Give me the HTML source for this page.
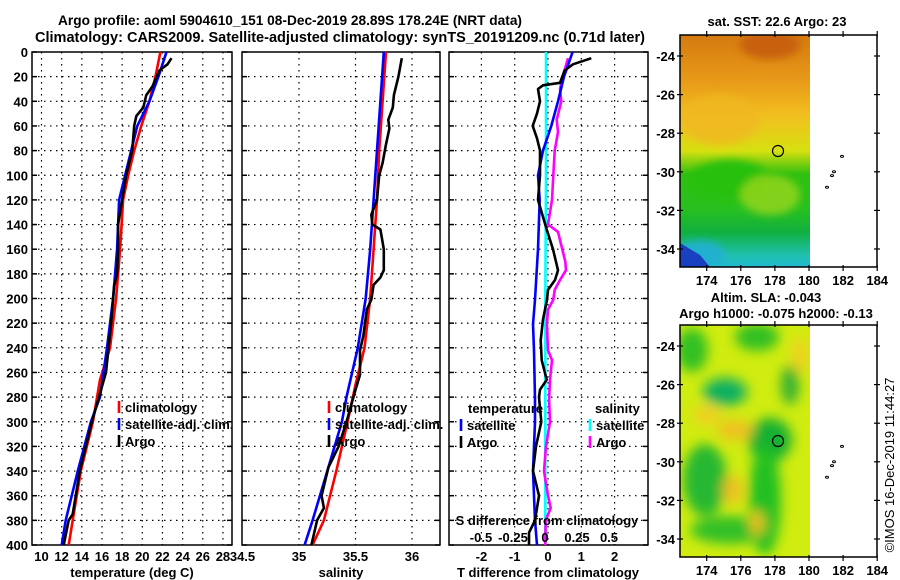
<!DOCTYPE html>
<html><head><meta charset="utf-8">
<style>
body{margin:0;background:#fff;}
svg{display:block;font-family:"Liberation Sans",sans-serif;font-weight:bold;}
</style></head>
<body>
<svg id="c" width="900" height="580" viewBox="0 0 900 580" xmlns="http://www.w3.org/2000/svg">
<defs>
<linearGradient id="sstg" x1="0" y1="0" x2="0" y2="1">
<stop offset="0" stop-color="#d47a10"/><stop offset="0.2" stop-color="#e89a18"/>
<stop offset="0.35" stop-color="#f2c020"/><stop offset="0.5" stop-color="#d6e010"/>
<stop offset="0.6" stop-color="#30c010"/><stop offset="0.75" stop-color="#28c020"/>
<stop offset="0.85" stop-color="#10b040"/><stop offset="0.95" stop-color="#20c0b0"/>
<stop offset="1" stop-color="#20b8d0"/></linearGradient>
<filter id="bl"><feGaussianBlur stdDeviation="6"/></filter>
<filter id="bl2"><feGaussianBlur stdDeviation="4"/></filter>
<clipPath id="m1c"><rect x="680" y="35" width="130" height="232"/></clipPath>
<clipPath id="m2c"><rect x="680" y="325" width="130" height="232"/></clipPath>
</defs>
<text x="290" y="25" font-size="14" text-anchor="middle" textLength="464" lengthAdjust="spacingAndGlyphs">Argo profile: aoml 5904610_151 08-Dec-2019 28.89S 178.24E (NRT data)</text>
<text x="340" y="42" font-size="14.5" text-anchor="middle" textLength="610" lengthAdjust="spacingAndGlyphs">Climatology: CARS2009. Satellite-adjusted climatology: synTS_20191209.nc (0.71d later)</text>
<g id="panels"></g>
<g>
<text x="777" y="26" font-size="13" text-anchor="middle">sat. SST: 22.6 Argo: 23</text>
<g clip-path="url(#m1c)">
<rect x="680" y="35" width="130" height="232" fill="url(#sstg)"/>
<g filter="url(#bl2)">
<ellipse cx="770" cy="45" rx="30" ry="14" fill="#c86008"/>
<ellipse cx="720" cy="120" rx="40" ry="25" fill="#f0b820" opacity="0.8"/>
<ellipse cx="730" cy="180" rx="40" ry="20" fill="#28c010"/>
<ellipse cx="770" cy="195" rx="30" ry="20" fill="#a8d818" opacity="0.7"/>
<ellipse cx="700" cy="255" rx="25" ry="14" fill="#20b0d0"/>
</g>
<polygon points="680,243 700,255 710,267 680,267" fill="#1840c0"/>
</g>
<circle cx="778" cy="151" r="5.5" fill="none" stroke="#000" stroke-width="1.2"/>
<rect x="680" y="35" width="197" height="232" fill="none" stroke="#000" stroke-width="1.5"/>
</g>
<g>
<text x="766" y="302" font-size="13" text-anchor="middle">Altim. SLA: -0.043</text>
<text x="776" y="318" font-size="13" text-anchor="middle">Argo h1000: -0.075 h2000: -0.13</text>
<g clip-path="url(#m2c)">
<rect x="680" y="325" width="130" height="232" fill="#d0ec10"/>
<g filter="url(#bl)">
<ellipse cx="692" cy="350" rx="16" ry="22" fill="#30c020"/>
<ellipse cx="757" cy="337" rx="22" ry="14" fill="#30c020"/>
<ellipse cx="725" cy="392" rx="22" ry="14" fill="#10b060"/>
<ellipse cx="790" cy="385" rx="9" ry="20" fill="#30b030"/>
<ellipse cx="770" cy="440" rx="22" ry="22" fill="#18b030"/>
<ellipse cx="765" cy="500" rx="16" ry="55" fill="#20c020"/>
<ellipse cx="705" cy="480" rx="22" ry="36" fill="#28b830"/>
<ellipse cx="730" cy="530" rx="40" ry="14" fill="#30c028"/>
<ellipse cx="735" cy="430" rx="18" ry="10" fill="#f0c020"/>
<ellipse cx="707" cy="415" rx="14" ry="10" fill="#f0d020"/>
<ellipse cx="733" cy="490" rx="10" ry="14" fill="#f0c020"/>
<ellipse cx="757" cy="523" rx="7" ry="12" fill="#f0c020"/>
<ellipse cx="800" cy="355" rx="8" ry="18" fill="#f0d020"/>
</g>
</g>
<circle cx="778" cy="441" r="5.5" fill="none" stroke="#000" stroke-width="1.2"/>
<rect x="680" y="325" width="197" height="232" fill="none" stroke="#000" stroke-width="1.5"/>
</g>
<g id="maps"></g>
<text transform="translate(894,465) rotate(-90)" font-size="13" font-weight="normal" text-anchor="middle">©IMOS 16-Dec-2019 11:44:27</text>
</svg>
<script>
const tClimDepth = [0,20,40,60,80,100,120,160,200,240,266,300,340,380,400];
const tClim = [21.8,21.3,20.7,19.9,19.2,18.6,18.1,17.8,17.4,16.8,15.8,15.1,13.9,13.1,12.7];
const tSatDepth = [0,20,40,60,80,120,160,200,240,280,300,340,380,400];
const tSat = [22.4,21.6,20.7,19.5,18.9,17.7,17.5,17.1,16.5,15.8,14.9,13.6,12.4,12.0];
const tArgoDepth = [5,10,15,28,35,45,52,60,70,80,100,140,160,180,190,220,260,300,340,375,380,400];
const tArgo = [22.9,22.5,21.7,21.0,20.4,20.1,19.4,19.2,19.1,19.0,18.4,17.6,17.6,17.5,17.2,16.9,16.4,15.0,13.8,13.1,12.7,12.2];
const sClimDepth = [0,40,80,120,160,200,240,270,300,340,380,400];
const sClim = [35.77,35.74,35.71,35.69,35.66,35.63,35.58,35.50,35.43,35.33,35.22,35.12];
const sSatDepth = [0,40,80,120,160,200,240,280,300,340,380,400];
const sSat = [35.75,35.72,35.69,35.66,35.63,35.59,35.52,35.42,35.38,35.25,35.12,35.05];
const sArgoDepth = [5,20,35,45,55,62,75,90,100,120,132,140,144,160,177,183,189,201,209,230,242,262,274,300,320,337,360,370,380,400];
const sArgo = [35.91,35.88,35.84,35.83,35.79,35.80,35.77,35.74,35.71,35.69,35.64,35.65,35.72,35.75,35.75,35.72,35.66,35.64,35.60,35.57,35.54,35.54,35.50,35.42,35.35,35.26,35.20,35.22,35.16,35.11];
const dTSatDepth = [0,20,40,60,80,100,120,160,201,221,242,282,300,340,380,400];
const dTSat = [0.74,0.48,0.30,0.10,-0.15,-0.30,-0.25,-0.30,-0.39,-0.45,-0.42,-0.39,-0.39,-0.45,-0.39,-0.33];
const dTArgoDepth = [5,10,15,25,27,30,40,50,60,70,80,100,120,144,160,177,185,193,201,217,234,250,266,274,280,300,320,340,360,380,390,400];
const dTArgo = [1.3,0.75,0.5,0.36,-0.15,-0.3,-0.24,-0.33,-0.46,-0.33,-0.24,-0.24,-0.3,-0.04,0.15,0.3,0.21,0,-0.03,-0.15,-0.22,-0.19,-0.04,-0.24,-0.27,-0.2,-0.36,-0.45,-0.27,-0.39,-0.57,-0.57];
const dSSatDepth = [0,100,200,300,400];
const dSSat = [-0.015,-0.015,-0.02,-0.02,-0.02];
const dSArgoDepth = [5,20,30,40,55,65,80,100,120,140,146,170,177,185,193,201,209,221,242,250,266,282,300,320,340,360,370,380,400];
const dSArgo = [0.15,0.11,0.09,0.10,0.065,0.075,0.05,0.04,0.03,0.0,0.075,0.13,0.135,0.09,0.05,0.04,0.0,-0.008,0.0,0.03,0.015,0.008,0.015,-0.015,-0.03,0.0,0.02,-0.017,-0.02];
const depthTicks = [0,20,40,60,80,100,120,140,160,180,200,220,240,260,280,300,320,340,360,380,400];
const tTicks = [10,12,14,16,18,20,22,24,26,28];
const sTicks = [34.5,35,35.5,36];
const sTickLabels = ["34.5","35","35.5","36"];
const dTTicks = [-2,-1,0,1,2];
const dSTicks = [-0.5,-0.25,0,0.25,0.5];
const dSTickLabels = ["-0.5","-0.25","0","0.25","0.5"];
const latTicks = [-24,-26,-28,-30,-32,-34];
const lonTicks = [174,176,178,180,182,184];

const yD = d => 52 + d*1.2325;
const xT = t => 41.5 + (t-10)*10.08;
const xS = s => 299 + (s-35)*113;
const xDT = v => 548 + v*33.3;
const xDS = v => 548 + v*133.2;
const xDSLabel = v => 545 + v*128;
const xLon = l => 706.7 + (l-174)*17.05;
const yLat1 = l => 56 + (-24-l)*19.3;
const yLat2 = l => 346 + (-24-l)*19.3;

const NS="http://www.w3.org/2000/svg";
const G=document.getElementById('panels');
function mk(tag,attrs,parent,txt){const e=document.createElementNS(NS,tag);for(const k in attrs)e.setAttribute(k,attrs[k]);if(txt!==undefined)e.textContent=txt;(parent||G).appendChild(e);return e;}
function line(xs,ds,fx,color,name,w){
  let p=''; for(let i=0;i<xs.length;i++){p+=(i?'L':'M')+fx(xs[i]).toFixed(1)+','+yD(ds[i]).toFixed(1);}
  const e=mk('path',{d:p,fill:'none',stroke:color,'stroke-width':w||2.6,'stroke-linejoin':'round'});
  
  
}
const panels=[{x0:32,x1:232,ticks:tTicks,fx:xT,labels:tTicks.map(String),title:'temperature (deg C)',tx:132,name:'temperature-panel'},
{x0:242,x1:440,ticks:sTicks,fx:xS,labels:sTickLabels,title:'salinity',tx:341,name:'salinity-panel'},
{x0:449,x1:648,ticks:dTTicks,fx:xDT,labels:dTTicks.map(String),title:'T difference from climatology',tx:548,name:'difference-panel'}];
panels.forEach(p=>{
  const g=mk('g',{});
  
  
  depthTicks.forEach(d=>{ if(d>0&&d<400) mk('line',{x1:p.x0,x2:p.x1,y1:yD(d),y2:yD(d),stroke:'#000','stroke-width':1.2,'stroke-dasharray':'1.5,4.5'},g);
    mk('line',{x1:p.x0,x2:p.x0+5,y1:yD(d),y2:yD(d),stroke:'#000','stroke-width':1.5},g);
    mk('line',{x1:p.x1-5,x2:p.x1,y1:yD(d),y2:yD(d),stroke:'#000','stroke-width':1.5},g);});
  p.ticks.forEach((t,i)=>{const x=p.fx(t);
    if(x>p.x0+2&&x<p.x1-2) mk('line',{x1:x,x2:x,y1:yD(0),y2:yD(400),stroke:'#000','stroke-width':1.2,'stroke-dasharray':'1.5,4.5'},g);
    const lb=mk('text',{x:x,y:561,'font-size':13,'text-anchor':'middle'},g,p.labels[i]);
    
    });
  mk('rect',{x:p.x0,y:yD(0),width:p.x1-p.x0,height:yD(400)-yD(0),fill:'none',stroke:'#000','stroke-width':1.5},g);
  const at=mk('text',{x:p.tx,y:577,'font-size':13,'text-anchor':'middle'},g,p.title);
  
  
});
depthTicks.forEach(d=>{const t=mk('text',{x:28,y:yD(d)+5,'font-size':13,'text-anchor':'end'},G,String(d));
  
  });

line(tClim,tClimDepth,xT,'#f00','temp-climatology-line');
line(tSat,tSatDepth,xT,'#00f','temp-satellite-line');
line(tArgo,tArgoDepth,xT,'#000','temp-argo-line');
line(sClim,sClimDepth,xS,'#f00','sal-climatology-line');
line(sSat,sSatDepth,xS,'#00f','sal-satellite-line');
line(sArgo,sArgoDepth,xS,'#000','sal-argo-line');
line(dSSat,dSSatDepth,v=>xDS(v),'#0ff','sdiff-satellite-line');
line(dSArgo,dSArgoDepth,v=>xDS(v),'#f0f','sdiff-argo-line');
line(dTSat,dTSatDepth,xDT,'#00f','tdiff-satellite-line');
line(dTArgo,dTArgoDepth,xDT,'#000','tdiff-argo-line');

const sdt=mk('text',{x:547,y:525,'font-size':13,'text-anchor':'middle'},G,'S difference from climatology');


dSTicks.forEach((v,i)=>{const t=mk('text',{x:xDSLabel(v),y:542,'font-size':13,'text-anchor':'middle'},G,dSTickLabels[i]);
  
  });

function leg(x,y,color,txt,name){
  const g=mk('g',{});
  
  
  mk('line',{x1:x,x2:x,y1:y-11,y2:y+1,stroke:color,'stroke-width':2.6},g);
  mk('text',{x:x+6,y:y,'font-size':13},g,txt);
}
leg(119,412,'#f00','climatology','legend-temp-climatology');
leg(119,429,'#00f','satellite-adj. clim.','legend-temp-satellite');
leg(119,446,'#000','Argo','legend-temp-argo');
leg(329,412,'#f00','climatology','legend-sal-climatology');
leg(329,429,'#00f','satellite-adj. clim.','legend-sal-satellite');
leg(329,446,'#000','Argo','legend-sal-argo');
const lt=mk('text',{x:468,y:413,'font-size':13},G,'temperature');


const ls=mk('text',{x:595,y:413,'font-size':13},G,'salinity');


leg(461,430,'#00f','satellite','legend-tdiff-satellite');
leg(461,447,'#000','Argo','legend-tdiff-argo');
leg(590,430,'#0ff','satellite','legend-sdiff-satellite');
leg(590,447,'#f0f','Argo','legend-sdiff-argo');

const M=document.getElementById('maps');
[[35,267,yLat1,'sst'],[325,557,yLat2,'sla']].forEach(([top,bot,fy,nm])=>{
  latTicks.forEach(l=>{const y=fy(l);
    mk('line',{x1:677,x2:683,y1:y,y2:y,stroke:'#000','stroke-width':1.2},M);
    mk('line',{x1:874,x2:880,y1:y,y2:y,stroke:'#000','stroke-width':1.2},M);
    const t=mk('text',{x:675,y:y+5,'font-size':13,'text-anchor':'end'},M,String(l));
    
    });
  lonTicks.forEach(l=>{const x=xLon(l);
    mk('line',{x1:x,x2:x,y1:top-4,y2:top+2,stroke:'#000','stroke-width':1.2},M);
    mk('line',{x1:x,x2:x,y1:bot-2,y2:bot+4,stroke:'#000','stroke-width':1.2},M);
    const t=mk('text',{x:x,y:bot+18,'font-size':13,'text-anchor':'middle'},M,String(l));
    
    });
  [[842,fy(-29.2)],[834,fy(-30)],[832,fy(-30.2)],[827,fy(-30.8)]].forEach(([x,y])=>mk('ellipse',{cx:x,cy:y,rx:1.5,ry:1,fill:'none',stroke:'#000','stroke-width':1},M));
});
</script>
</body></html>
